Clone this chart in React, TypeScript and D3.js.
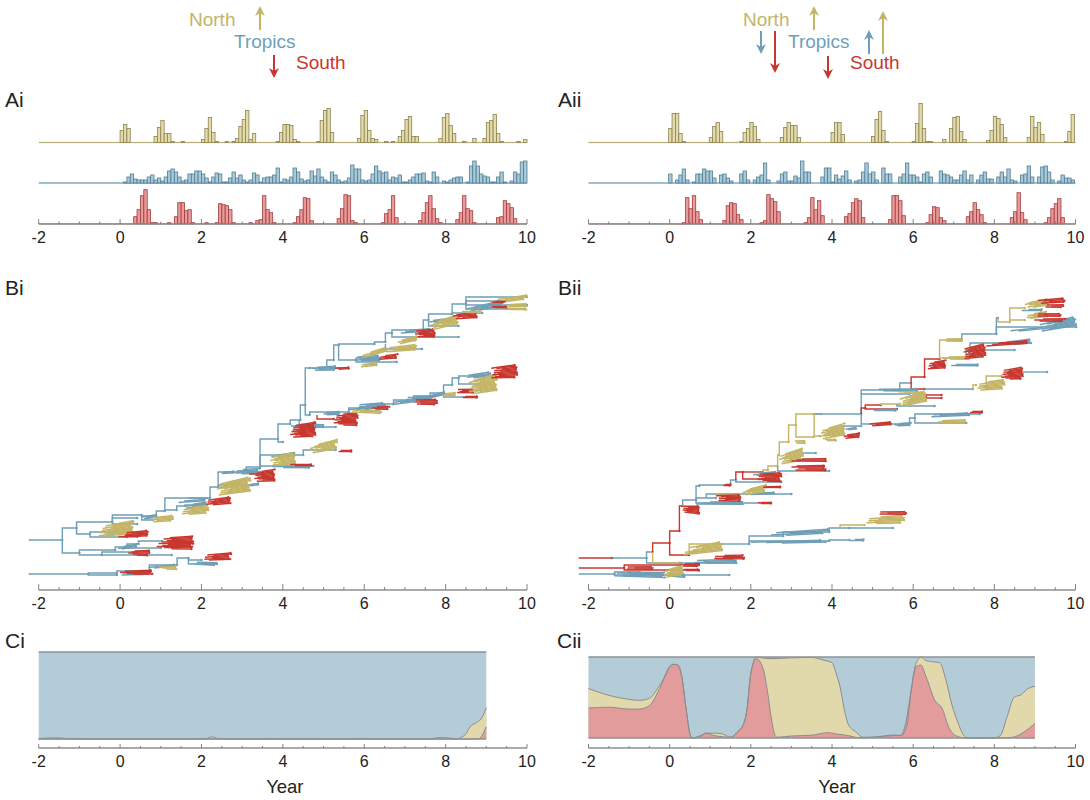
import * as d3 from 'd3';

const FONT = '"Liberation Sans", Arial, sans-serif';
const COLORS: Record<string, string> = { N: '#c4b566', T: '#6f9fb6', S: '#c8372f' };
const FILLS: Record<string, string> = { N: '#e3dbab', T: '#a9c9d8', S: '#e99a9a' };
const EDGES: Record<string, string> = { N: '#8c8350', T: '#4f7e95', S: '#a33b3c' };

// monthly case counts, one row per year, year 0 onward
const northI = [
  12, 18, 14, 0, 0, 0, 0, 0, 0, 0, 6, 15,
  22, 9, 9, 1, 0, 0, 1, 0, 0, 0, 0, 0,
  3, 14, 25, 10, 1, 0, 0, 1, 0, 1, 4, 16,
  23, 32, 3, 9, 0, 0, 0, 0, 0, 0, 1, 10,
  18, 18, 17, 3, 1, 0, 0, 0, 0, 0, 1, 22,
  32, 34, 10, 0, 0, 0, 0, 0, 0, 0, 4, 27,
  32, 12, 4, 3, 0, 0, 1, 0, 1, 0, 6, 12,
  23, 26, 6, 6, 0, 0, 0, 0, 0, 0, 4, 25,
  29, 17, 9, 0, 0, 1, 0, 0, 4, 0, 0, 4,
  20, 22, 28, 9, 1, 0, 0, 0, 0, 1, 0, 3,
];
const tropicsI = [
  0, 1, 6, 9, 4, 3, 3, 3, 6, 8, 3, 5,
  2, 6, 12, 14, 11, 6, 2, 3, 9, 9, 12, 12,
  9, 5, 1, 6, 10, 9, 1, 1, 5, 11, 5, 8,
  3, 1, 3, 10, 8, 1, 5, 6, 6, 8, 15, 1,
  4, 3, 6, 15, 11, 4, 2, 3, 12, 7, 14, 6,
  3, 1, 11, 8, 3, 1, 2, 5, 18, 14, 14, 3,
  2, 3, 9, 17, 12, 10, 11, 3, 6, 5, 8, 1,
  1, 3, 6, 9, 9, 10, 2, 1, 11, 6, 0, 2,
  1, 3, 5, 6, 6, 0, 1, 17, 22, 17, 9, 7,
  6, 1, 1, 6, 11, 1, 0, 2, 11, 9, 21, 22,
];
const southI = [
  0, 0, 0, 0, 7, 14, 28, 34, 14, 1, 1, 0,
  0, 0, 1, 0, 7, 21, 21, 13, 14, 1, 0, 0,
  0, 1, 0, 0, 1, 20, 19, 18, 14, 1, 0, 0,
  0, 0, 1, 0, 3, 4, 28, 14, 11, 1, 0, 0,
  0, 0, 0, 1, 7, 14, 26, 25, 3, 0, 0, 0,
  0, 0, 0, 0, 5, 15, 29, 28, 3, 1, 0, 0,
  0, 0, 0, 0, 0, 1, 10, 14, 28, 6, 0, 0,
  0, 0, 0, 0, 3, 11, 21, 28, 15, 5, 1, 0,
  0, 0, 0, 4, 11, 28, 15, 13, 1, 0, 0, 0,
  0, 0, 0, 6, 7, 23, 20, 16, 5, 0, 0, 0,
];
const northII = [
  14, 29, 29, 9, 1, 0, 0, 0, 0, 0, 0, 0,
  5, 16, 20, 11, 0, 0, 0, 0, 0, 1, 10, 14,
  20, 16, 3, 0, 0, 0, 0, 0, 0, 5, 15, 20,
  17, 17, 5, 0, 0, 0, 0, 0, 0, 0, 0, 0,
  10, 20, 20, 8, 0, 0, 0, 0, 0, 0, 0, 0,
  6, 23, 31, 12, 1, 0, 0, 0, 0, 0, 0, 0,
  1, 19, 39, 14, 1, 1, 0, 0, 0, 3, 0, 14,
  25, 26, 11, 3, 0, 0, 0, 0, 0, 0, 2, 12,
  26, 24, 18, 5, 0, 0, 0, 0, 0, 0, 5, 26,
  15, 20, 8, 0, 0, 0, 0, 0, 0, 1, 11, 28,
];
const tropicsII = [
  9, 0, 3, 8, 14, 3, 0, 1, 9, 9, 14, 12,
  12, 5, 0, 8, 9, 5, 2, 0, 0, 9, 12, 3,
  0, 3, 6, 8, 20, 3, 0, 0, 2, 9, 11, 2,
  2, 7, 5, 22, 11, 11, 0, 0, 0, 6, 15, 15,
  1, 8, 4, 7, 12, 3, 0, 2, 3, 11, 20, 9,
  11, 3, 0, 15, 9, 9, 0, 0, 6, 9, 20, 8,
  8, 6, 1, 9, 11, 6, 0, 0, 12, 9, 8, 6,
  3, 3, 8, 12, 3, 8, 0, 3, 8, 11, 4, 4,
  0, 6, 11, 6, 14, 3, 2, 0, 8, 9, 17, 6,
  0, 6, 16, 17, 11, 3, 0, 2, 8, 5, 5, 3,
];
const southII = [
  0, 0, 0, 0, 1, 26, 15, 28, 12, 4, 0, 0,
  0, 0, 0, 0, 3, 18, 21, 20, 9, 4, 0, 0,
  0, 0, 0, 1, 3, 29, 25, 22, 12, 0, 0, 0,
  0, 0, 0, 0, 1, 6, 26, 14, 23, 8, 0, 0,
  0, 0, 0, 0, 7, 10, 21, 25, 23, 6, 0, 0,
  0, 0, 0, 0, 0, 4, 28, 28, 23, 8, 0, 0,
  0, 0, 0, 0, 1, 9, 17, 16, 6, 3, 0, 0,
  0, 0, 0, 0, 7, 12, 21, 14, 9, 1, 0, 0,
  0, 0, 0, 0, 0, 6, 12, 31, 11, 4, 0, 0,
  0, 0, 0, 1, 6, 15, 20, 25, 6, 0, 0, 0,
];

// tree branches: start year, end year, rank, parent rank, region
type Branch = [number, number, number, number, string];
// tip clumps: start year, start rank, end year, end rank, spread, region
type Clump = [number, number, number, number, number, string];

const branchesI: Branch[] = [
  [-2.25, -1.42, 50, 50, 'T'], [-1.42, -1.07, 62, 50, 'T'], [-1.42, -1.0, 37, 50, 'T'],
  [-1.07, -0.19, 68, 62, 'T'], [-1.07, -0.74, 56, 62, 'T'], [-0.19, 0.42, 72, 68, 'T'], [-0.19, 0.42, 66, 68, 'T'],
  [-0.74, -0.08, 58, 56, 'T'], [-0.74, 0.17, 53, 56, 'T'],
  [-1.0, -0.12, 40, 37, 'T'], [-1.0, -0.45, 35, 37, 'T'], [-0.12, 0.17, 43, 40, 'T'], [0.17, 0.45, 46, 43, 'T'],
  [0.45, 1.03, 49, 46, 'T'], [0.17, 1.0, 42, 43, 'T'], [-0.45, 1.27, 35, 35, 'T'], [-0.45, 0.43, 38, 35, 'T'],
  [-2.25, -0.78, 16, 16, 'T'], [-0.78, -0.08, 17, 16, 'T'], [-0.78, -0.08, 15, 16, 'T'], [-0.08, 0.72, 19, 17, 'T'],
  [0.72, 1.4, 25, 19, 'T'], [1.4, 1.68, 32, 25, 'T'], [1.68, 2.0, 30, 32, 'T'], [1.68, 2.38, 26, 32, 'T'],
  [-0.19, 0.53, 75, 68, 'T'], [0.53, 0.89, 74, 75, 'T'], [0.53, 0.8, 70, 75, 'T'], [0.89, 1.1, 79, 74, 'T'],
  [1.1, 2.21, 92, 79, 'T'], [1.1, 1.39, 80, 79, 'T'], [1.39, 1.6, 84, 80, 'T'], [1.6, 2.13, 85, 84, 'T'],
  [2.21, 2.41, 103, 92, 'T'], [2.41, 3.44, 118, 103, 'T'], [2.41, 3.27, 105, 103, 'T'],
  [3.1, 3.44, 123, 118, 'T'], [3.44, 3.88, 151, 123, 'T'], [3.44, 4.5, 135, 123, 'T'], [4.5, 5.3, 140, 135, 'T'], [3.44, 4.75, 124, 123, 'T'],
  [3.88, 4.18, 166, 151, 'T'], [3.88, 4.0, 148, 151, 'T'],
  [4.18, 4.43, 170, 166, 'T'], [4.43, 4.55, 185, 170, 'T'], [4.55, 4.66, 222, 185, 'T'], [4.55, 4.66, 175, 185, 'T'],
  [4.4, 5.3, 163, 170, 'T'], [4.84, 5.25, 171, 175, 'S'],
  [4.66, 5.62, 178, 175, 'T'], [5.62, 6.15, 182, 178, 'T'], [6.15, 6.72, 186, 182, 'T'], [6.72, 7.21, 190, 186, 'T'],
  [7.21, 7.62, 194, 190, 'T'], [7.62, 7.95, 197, 194, 'T'], [7.95, 8.16, 205, 197, 'T'], [8.16, 8.32, 212, 205, 'T'],
  [7.95, 8.77, 193, 197, 'T'], [8.32, 9.18, 214, 212, 'T'], [8.32, 9.1, 206, 212, 'T'],
  [4.66, 5.6, 222, 222, 'T'], [5.08, 5.25, 230, 223, 'T'], [5.25, 5.37, 245, 230, 'T'], [5.37, 6.25, 246, 245, 'T'], [5.37, 5.8, 230, 245, 'T'],
  [5.8, 6.4, 232, 230, 'T'], [5.8, 6.8, 228, 230, 'T'], [6.52, 7.42, 241, 246, 'T'],
  [6.25, 6.52, 248, 246, 'T'], [6.52, 6.68, 257, 248, 'T'], [6.68, 8.32, 253, 257, 'T'], [6.68, 7.58, 260, 257, 'T'],
  [7.45, 7.58, 270, 260, 'T'], [7.58, 8.16, 276, 270, 'T'], [7.58, 8.32, 264, 270, 'T'], [8.16, 8.5, 286, 276, 'T'], [8.16, 8.9, 277, 276, 'T'],
  [8.5, 10.0, 293, 286, 'T'], [8.5, 10.0, 285, 286, 'T'], [8.5, 9.95, 281, 286, 'T'], [8.5, 9.4, 289, 286, 'T'],
];
const clumpsI: Clump[] = [
  [-0.1, 41, 0.45, 45, 3, 'T'], [0.0, 16, 0.7, 17, 3, 'T'], [1.4, 88, 2.1, 90, 2, 'T'], [0.53, 72, 0.9, 74, 3, 'T'], [3.0, 104, 3.4, 106, 2, 'T'], [2.5, 117, 2.8, 118, 2, 'T'],
  [-0.53, 58, 0.33, 63, 11, 'N'], [-0.1, 60, 0.3, 58, 5, 'N'], [0.08, 55, 0.7, 57, 5, 'S'], [-0.1, 54, 0.5, 54, 2, 'S'],
  [0.74, 70, 1.3, 72, 5, 'N'], [1.03, 49, 1.8, 50, 7, 'S'], [0.9, 44, 1.8, 44, 6, 'S'], [0.2, 37, 0.72, 37, 5, 'S'],
  [0.0, 17, 0.8, 18, 4, 'S'], [0.95, 22, 1.4, 22, 3, 'N'], [0.7, 22, 1.4, 25, 2, 'T'], [2.0, 32, 2.73, 34, 6, 'S'], [1.76, 27, 2.38, 26, 3, 'T'],
  [1.48, 78, 2.17, 81, 7, 'N'], [2.09, 87, 2.72, 90, 6, 'S'], [1.56, 83, 2.13, 86, 4, 'T'], [1.6, 92, 2.2, 92, 1, 'T'],
  [2.8, 118, 3.44, 119, 5, 'T'], [3.3, 113, 3.8, 115, 10, 'S'], [2.38, 100, 3.2, 106, 12, 'N'], [2.41, 102, 3.0, 108, 4, 'T'],
  [3.1, 116, 3.4, 116, 1, 'S'], [3.69, 128, 4.3, 132, 10, 'N'], [3.69, 133, 4.3, 136, 3, 'T'], [4.67, 140, 5.33, 146, 8, 'N'],
  [5.37, 139, 5.7, 139, 2, 'S'], [4.18, 125, 4.75, 125, 2, 'S'], [3.69, 123, 4.75, 123, 2, 'T'],
  [4.18, 158, 4.8, 161, 12, 'S'], [4.2, 165, 5.0, 164, 3, 'T'], [5.25, 170, 5.84, 171, 11, 'S'], [5.0, 176, 5.4, 177, 3, 'T'],
  [5.6, 179, 6.6, 185, 3, 'T'], [6.6, 186, 7.3, 190, 3, 'T'], [7.3, 190, 8.0, 197, 3, 'T'],
  [5.62, 179, 6.44, 178, 3, 'N'], [6.15, 182, 6.62, 182, 3, 'S'], [5.8, 184, 6.5, 186, 3, 'T'], [7.21, 188, 7.79, 188, 5, 'S'], [7.0, 192, 7.7, 192, 4, 'T'],
  [7.91, 195, 8.24, 196, 3, 'N'], [8.28, 199, 8.69, 199, 4, 'S'], [8.36, 193, 8.77, 193, 2, 'S'],
  [8.57, 202, 9.26, 208, 14, 'N'], [9.12, 217, 9.76, 219, 11, 'S'], [8.5, 213, 9.1, 216, 4, 'T'],
  [5.2, 221, 5.62, 222, 2, 'S'], [4.7, 221, 5.3, 222, 4, 'T'],
  [5.89, 233, 6.56, 241, 4, 'N'], [5.8, 231, 6.4, 232, 5, 'T'], [6.52, 240, 7.3, 243, 5, 'N'], [6.35, 232, 6.82, 234, 4, 'S'], [5.9, 224, 6.31, 226, 3, 'N'],
  [6.8, 247, 7.3, 252, 4, 'N'], [7.25, 256, 7.75, 257, 7, 'S'], [6.9, 258, 7.6, 260, 3, 'T'],
  [7.62, 263, 8.32, 271, 8, 'N'], [8.18, 273, 8.77, 275, 5, 'S'], [8.4, 278, 8.9, 278, 2, 'N'], [7.6, 268, 8.2, 271, 3, 'T'],
  [8.5, 279, 9.4, 287, 5, 'T'], [9.1, 288, 10.0, 293, 4, 'N'], [9.3, 284, 10.0, 285, 3, 'N'], [9.4, 281, 10.0, 281, 2, 'N'],
  [9.1, 288, 9.45, 288, 1.5, 'S'], [9.1, 283, 9.5, 283, 1.5, 'S'],
];

const branchesII: Branch[] = [
  [-2.24, -1.42, 32, 32, 'S'], [-1.42, -0.57, 32, 32, 'T'], [-0.57, -0.42, 38, 32, 'T'], [-0.57, 0.24, 27, 32, 'T'],
  [-0.42, 0, 47, 38, 'S'], [-0.42, 0.28, 27, 38, 'N'], [0, 0.24, 59, 47, 'S'], [0, 0.48, 35, 47, 'S'], [0.24, 0.32, 84, 59, 'S'],
  [0.32, 0.65, 90, 84, 'T'], [0.65, 0.73, 104, 90, 'T'], [0.73, 1.5, 105, 104, 'T'], [0.65, 2.5, 87, 90, 'T'], [0.65, 1.14, 92, 90, 'T'], [0.9, 3.0, 96, 92, 'T'],
  [1.5, 1.63, 110, 105, 'T'],
  [1.63, 1.8, 118, 110, 'S'], [1.8, 2.3, 118, 118, 'S'], [1.8, 2.6, 111, 118, 'S'], [1.63, 2.75, 108, 110, 'T'],
  [2.3, 2.42, 120, 118, 'N'], [2.42, 2.66, 124, 120, 'N'], [2.66, 2.7, 135, 124, 'N'], [2.66, 3.93, 119, 124, 'T'],
  [2.7, 2.93, 148, 135, 'N'], [2.93, 3.11, 165, 148, 'N'], [3.11, 3.55, 176, 165, 'N'], [3.11, 3.55, 153, 165, 'N'],
  [3.28, 3.6, 137, 135, 'T'], [3.55, 3.72, 176, 176, 'N'],
  [-1.12, 0.72, 25, 22, 'S'], [-2.24, -1.12, 22, 22, 'S'], [-1.12, 0.72, 20, 22, 'S'],
  [-2.24, -1.36, 16, 16, 'T'], [-1.36, -0.74, 18, 16, 'T'], [-1.36, 1.47, 15, 16, 'T'],
  [0.24, 1.64, 27, 27, 'T'], [0.48, 1.3, 46, 35, 'N'], [1.3, 1.96, 46, 46, 'T'],
  [1.96, 2.8, 54, 46, 'T'], [2.8, 3.93, 58, 54, 'T'], [3.93, 4.43, 62, 58, 'T'], [1.96, 3.93, 49, 46, 'T'],
  [3.93, 4.43, 50, 49, 'T'], [4.43, 5.5, 62, 62, 'T'], [4.2, 4.8, 65, 62, 'N'],
  [3.56, 4.72, 176, 176, 'T'], [3.56, 3.7, 154, 176, 'N'], [4.27, 4.72, 164, 154, 'T'],
  [4.72, 5.91, 196, 176, 'T'], [4.72, 5.91, 166, 176, 'T'], [5.91, 6.04, 172, 166, 'T'], [6.04, 7.64, 176, 172, 'T'], [6.04, 7.31, 167, 172, 'T'],
  [4.72, 4.82, 182, 176, 'S'], [4.82, 5.6, 181, 182, 'S'], [4.82, 5.2, 185, 182, 'S'], [5.2, 5.67, 186, 185, 'N'], [5.6, 6.53, 184, 186, 'T'],
  [6.32, 6.7, 195, 190, 'S'], [6.32, 6.7, 192, 190, 'S'],
  [4.72, 5.67, 200, 196, 'T'], [5.67, 5.95, 207, 200, 'T'], [5.95, 6.28, 213, 200, 'S'], [5.95, 6.28, 201, 200, 'S'], [6.28, 7.47, 201, 201, 'T'],
  [6.28, 6.65, 231, 213, 'S'], [7.47, 7.55, 205, 201, 'N'], [7.8, 8.17, 214, 205, 'N'], [8.7, 9.3, 218, 218, 'T'],
  [6.65, 7.2, 250, 231, 'N'], [6.65, 7.4, 232, 231, 'N'], [7.2, 8.05, 256, 250, 'T'], [7.4, 8.9, 247, 232, 'T'], [7.3, 8.5, 240, 232, 'T'],
  [8.05, 8.09, 272, 256, 'T'], [8.05, 10.02, 263, 256, 'T'], [8.09, 8.38, 268, 272, 'N'], [8.38, 8.75, 270, 268, 'N'], [8.38, 8.75, 282, 268, 'N'],
];
const clumpsII: Clump[] = [
  [0.3, 81, 0.73, 80, 7, 'S'], [1.3, 105, 1.5, 105, 2, 'S'], [2.17, 112, 2.75, 113, 8, 'S'], [2.0, 115, 2.6, 117, 3, 'T'],
  [2.7, 130, 3.28, 136, 10, 'N'], [3.07, 148, 3.35, 148, 3, 'N'], [3.0, 130, 3.85, 130, 3, 'S'], [3.0, 122, 3.85, 122, 5, 'S'],
  [0.48, 39, 1.3, 44, 8, 'N'], [0.3, 36, 0.7, 39, 3, 'N'], [1.02, 33, 1.84, 33, 4, 'S'], [0.57, 28, 1.64, 29, 4, 'T'],
  [-1.12, 22, -0.4, 22, 3, 'S'], [0.2, 25, 0.72, 25, 3, 'S'], [0.3, 20, 0.72, 20, 2, 'S'], [-1.36, 16, -0.1, 15, 5, 'T'], [-0.13, 16, 0.32, 20, 8, 'N'], [0.0, 15, 0.4, 14, 3, 'T'],
  [1.1, 94, 1.8, 94, 3, 'N'], [1.8, 97, 2.38, 102, 6, 'N'], [2.3, 103, 2.75, 103, 1.5, 'S'], [1.14, 92, 1.76, 92, 6, 'S'],
  [0.65, 87, 1.8, 87, 3, 'T'], [2.09, 87, 2.5, 87, 1.5, 'S'], [2.0, 96, 2.6, 97, 2, 'T'],
  [2.0, 47, 3.9, 49, 2.5, 'T'], [2.3, 55, 3.93, 59, 4, 'T'], [4.8, 69, 5.78, 71, 7, 'N'], [5.1, 77, 5.85, 77, 3, 'S'], [4.4, 50, 4.8, 50, 2, 'T'],
  [3.7, 155, 4.31, 161, 10, 'N'], [3.8, 150, 4.1, 150, 2, 'N'], [4.27, 153, 4.68, 155, 4, 'S'], [4.3, 160, 4.6, 162, 2, 'T'],
  [4.9, 165, 5.5, 167, 3, 'S'], [5.5, 165, 5.95, 166, 3, 'T'], [6.4, 174, 7.4, 176, 3, 'T'], [7.35, 178, 7.7, 178, 2, 'S'], [6.61, 168, 7.31, 169, 3, 'N'],
  [5.67, 187, 6.32, 194, 9, 'N'], [5.0, 180, 5.6, 180, 2, 'T'], [5.1, 200, 6.2, 200, 2.5, 'T'], [5.5, 198, 6.2, 197, 2, 'N'],
  [7.55, 203, 8.25, 206, 8, 'N'], [8.17, 215, 8.7, 217, 10, 'S'],
  [6.36, 224, 6.8, 226, 7, 'S'], [6.82, 225, 7.6, 225, 2, 'T'], [6.78, 250, 7.2, 250, 3, 'N'], [6.7, 232, 7.4, 232, 3, 'N'], [7.24, 236, 7.78, 240, 11, 'S'],
  [7.8, 245, 8.8, 248, 3, 'S'], [8.2, 246, 8.9, 249, 4, 'T'],
  [9.12, 262, 10.02, 269, 8, 'T'], [8.2, 258, 9.2, 262, 2, 'T'],
  [8.75, 284, 9.32, 288, 6, 'N'], [9.07, 288, 9.75, 290, 4, 'S'], [9.2, 284, 9.7, 284, 3, 'S'], [8.75, 273, 9.3, 276, 5, 'N'],
  [9.0, 275, 9.65, 275, 3, 'S'], [8.9, 270, 9.75, 270, 3, 'S'], [8.6, 280, 9.2, 280, 2, 'T'],
];

// stacked proportions as [year, share]
const ciSouth: [number, number][] = [[-2, 0], [8.8, 0], [9, 0.14]];
const ciNorth: [number, number][] = [
  [-2, 0.005], [-1.7, 0.012], [-1.5, 0.012], [-1.3, 0.005], [-0.9, 0.005], [-0.85, 0], [1.85, 0], [1.9, 0.005], [2.1, 0.003],
  [2.25, 0.025], [2.4, 0.007], [2.55, 0.005], [2.6, 0], [3.45, 0], [3.5, 0.005], [3.7, 0.002], [5.75, 0], [5.8, 0.005], [6.05, 0.005], [6.1, 0],
  [7.65, 0], [7.8, 0.015], [8, 0.015], [8.3, 0], [8.35, 0.01], [8.5, 0.06], [8.6, 0.14], [8.78, 0.195], [8.9, 0.25], [9, 0.36],
];
const ciiSouth: [number, number][] = [
  [-2, 0.37], [-1.5, 0.38], [-1, 0.357], [-0.75, 0.357], [-0.5, 0.4], [-0.25, 0.61], [0, 0.88], [0.1, 0.91], [0.2, 0.9], [0.3, 0.755], [0.4, 0.38],
  [0.5, 0.05], [0.55, 0], [0.8, 0.03], [0.9, 0.06], [1.1, 0.03], [1.5, 0.01], [1.7, 0.09], [1.8, 0.15], [1.9, 0.34], [2, 0.8], [2.14, 0.98],
  [2.3, 0.86], [2.4, 0.61], [2.5, 0.26], [2.6, 0.03], [2.65, 0.01], [3, 0.025], [3.5, 0.035], [3.9, 0.066], [4.1, 0.05], [4.4, 0.03], [4.7, 0],
  [5, 0.01], [5.5, 0.03], [5.7, 0.035], [5.81, 0.17], [5.94, 0.55], [6.07, 0.88], [6.19, 0.9], [6.32, 0.755], [6.54, 0.46], [6.71, 0.37],
  [6.88, 0.13], [7.09, 0.02], [7.3, 0], [8.2, 0], [8.46, 0.01], [8.72, 0.07], [9, 0.18],
];
const ciiNorth: [number, number][] = [
  [-2, 0.61], [-1.5, 0.527], [-1, 0.477], [-0.75, 0.465], [-0.5, 0.49], [-0.3, 0.61], [-0.1, 0.776], [0, 0.88], [0.1, 0.91], [0.2, 0.9], [0.3, 0.755],
  [0.4, 0.38], [0.5, 0.05], [0.55, 0], [0.8, 0.04], [0.9, 0.06], [1.1, 0.06], [1.3, 0.05], [1.5, 0.01], [1.7, 0.09], [1.8, 0.15], [1.9, 0.34], [2, 0.8],
  [2.14, 1], [2.2, 0.995], [2.5, 0.98], [3, 0.99], [3.5, 0.995], [3.8, 0.96], [4, 0.93], [4.1, 0.8], [4.2, 0.63], [4.3, 0.36], [4.4, 0.17], [4.6, 0.07],
  [4.75, 0.01], [5, 0.01], [5.5, 0.037], [5.7, 0.03], [5.85, 0.17], [5.94, 0.55], [6.07, 0.92], [6.2, 1], [6.3, 0.96], [6.5, 0.94], [6.65, 0.93],
  [6.8, 0.73], [6.95, 0.42], [7.1, 0.195], [7.25, 0.03], [7.35, 0], [8, 0.003], [8.15, 0.03], [8.3, 0.24], [8.5, 0.51], [8.65, 0.53], [8.8, 0.6], [9, 0.64],
];

const tickLabels = [-2, 0, 2, 4, 6, 8, 10];
const axisTicks = d3.range(-2, 10.01, 0.5);

// fixed pattern so a clump's strands end unevenly
const strandStart = [0.35, 0.1, 0.25, 0.05, 0.3, 0.15, 0, 0.2, 0.4, 0.12];
const strandEnd = [0, 0.08, 0.03, 0.12, 0.01, 0.06, 0.1, 0.02, 0.05, 0.09];

const xI = d3.scaleLinear().domain([-2, 10]).range([38.7, 527]);
const xII = d3.scaleLinear().domain([-2, 10]).range([588.5, 1075.5]);
const countH = d3.scaleLinear().domain([0, 40]).range([0, 40]);
const rankY = d3.scaleLinear().domain([0, 320]).range([590, 270]);

function Axis({ x, y, labelY, h }: { x: d3.ScaleLinear<number, number>; y: number; labelY: number; h: number }) {
  return (
    <g>
      <line x1={x(-2)} x2={x(10)} y1={y} y2={y} stroke="#8e8e8e" strokeWidth={1.3} />
      {axisTicks.map((t) => (
        <line key={t} x1={x(t)} x2={x(t)} y1={y} y2={y - (t % 2 === 0 ? h : h / 2)} stroke="#777" strokeWidth={0.9} />
      ))}
      {tickLabels.map((t) => (
        <text key={t} x={x(t)} y={labelY} textAnchor="middle" fontSize={16} fill="#222" fontFamily={FONT}>{t}</text>
      ))}
    </g>
  );
}

function Hist({ values, region, base, x, shift }: { values: number[]; region: string; base: number; x: d3.ScaleLinear<number, number>; shift: number }) {
  const w = (x(1) - x(0)) / 12;
  return (
    <g>
      <line x1={x(-2)} x2={x(10)} y1={base} y2={base} stroke={region === 'S' ? '#c9a3ac' : FILLS[region]} strokeWidth={1.6} />
      <line x1={x(-2)} x2={x(10)} y1={base} y2={base} stroke={region === 'S' ? '#c9a3ac' : EDGES[region]} strokeWidth={0.7} opacity={0.7} />
      {values.map((v, i) => (v > 0 ? (
        <rect
          key={i}
          x={x(i / 12) + shift}
          y={base - countH(v)}
          width={w}
          height={countH(v)}
          fill={FILLS[region]}
          stroke={EDGES[region]}
          strokeWidth={0.8}
        />
      ) : null))}
    </g>
  );
}

function Tree({ branches, clumps, x }: { branches: Branch[]; clumps: Clump[]; x: d3.ScaleLinear<number, number> }) {
  const ordered = clumps.filter((c) => c[5] === 'T').concat(clumps.filter((c) => c[5] !== 'T'));
  return (
    <g>
      {branches.map(([x0, x1, r, pr, region], i) => {
        const p = d3.path();
        p.moveTo(x(x0), rankY(pr));
        p.lineTo(x(x0), rankY(r));
        p.lineTo(x(x1), rankY(r));
        return (
          <g key={i}>
            <path d={p.toString()} fill="none" stroke={COLORS[region]} strokeWidth={1.4} />
            <circle cx={x(x1)} cy={rankY(r)} r={1.2} fill={COLORS[region]} />
          </g>
        );
      })}
      {ordered.map(([x0, r0, x1, r1, spread, region], i) => {
        const a = x(x0);
        const b = x(x1);
        const y0 = rankY(r0);
        const y1 = rankY(r1);
        const w = spread * 1.25;
        const n = Math.max(1, Math.round(w / 1.2));
        return (
          <g key={i} stroke={COLORS[region]} fill={COLORS[region]}>
            {d3.range(n).map((j) => {
              const off = ((j + 0.5) / n - 0.5) * w;
              const s = strandStart[(j + i) % 10];
              const e = 1 - strandEnd[(j * 3 + i) % 10];
              const ax = a + s * (b - a);
              const bx = a + e * (b - a);
              const ay = y0 + s * (y1 - y0) + off * (0.75 + 0.25 * s);
              const by = y0 + e * (y1 - y0) + off;
              return (
                <g key={j}>
                  <line x1={ax} y1={ay} x2={bx} y2={by} strokeWidth={1.5} />
                  <circle cx={bx} cy={by} r={1.1} stroke="none" />
                </g>
              );
            })}
          </g>
        );
      })}
    </g>
  );
}

function Stack({ south, north, x, top, bottom }: { south: [number, number][]; north: [number, number][]; x: d3.ScaleLinear<number, number>; top: number; bottom: number }) {
  const y = d3.scaleLinear().domain([0, 1]).range([bottom, top]);
  const area = d3.area<[number, number]>().x((d) => x(d[0])).y0(bottom).y1((d) => y(d[1])).curve(d3.curveMonotoneX);
  const edge = d3.line<[number, number]>().x((d) => x(d[0])).y((d) => y(d[1])).curve(d3.curveMonotoneX);
  return (
    <g>
      <rect x={x(-2)} y={top} width={x(9) - x(-2)} height={bottom - top} fill="#b4ccd8" />
      <path d={area(north) || ''} fill="#e1d9ac" />
      <path d={area(south) || ''} fill="#e29c9c" />
      <path d={edge(north) || ''} fill="none" stroke="#8c8c8c" strokeWidth={1} />
      <path d={edge(south) || ''} fill="none" stroke="#8c8c8c" strokeWidth={1} />
      <line x1={x(-2)} x2={x(9)} y1={top} y2={top} stroke="#8c9296" strokeWidth={1.3} />
      <line x1={x(-2)} x2={x(9)} y1={bottom} y2={bottom} stroke="#8c9296" strokeWidth={1.3} />
    </g>
  );
}

const arrowsI = [
  { x: 260, from: 30, to: 6, region: 'N' },
  { x: 274, from: 55, to: 78, region: 'S' },
];
const arrowsII = [
  { x: 814, from: 30, to: 6, region: 'N' },
  { x: 761, from: 31, to: 54, region: 'T' },
  { x: 775, from: 31, to: 73, region: 'S' },
  { x: 828, from: 56, to: 79, region: 'S' },
  { x: 869, from: 54, to: 30, region: 'T' },
  { x: 883, from: 54, to: 11, region: 'N' },
];

function Arrow({ x, from, to, region }: { x: number; from: number; to: number; region: string }) {
  const dir = to > from ? 1 : -1;
  return (
    <g>
      <line x1={x} x2={x} y1={from} y2={to - dir * 6} stroke={COLORS[region]} strokeWidth={2} />
      <path d={`M${x - 5},${to - dir * 10}L${x},${to}L${x + 5},${to - dir * 10}L${x},${to - dir * 7}Z`} fill={COLORS[region]} />
    </g>
  );
}

const words = [
  { text: 'North', x: 189, y: 26, region: 'N' },
  { text: 'Tropics', x: 234, y: 48, region: 'T' },
  { text: 'South', x: 296, y: 69, region: 'S' },
  { text: 'North', x: 743, y: 26, region: 'N' },
  { text: 'Tropics', x: 788, y: 48, region: 'T' },
  { text: 'South', x: 850, y: 69, region: 'S' },
];
const panelLabels = [
  { text: 'Ai', x: 5, y: 107 },
  { text: 'Aii', x: 558, y: 107 },
  { text: 'Bi', x: 5, y: 295 },
  { text: 'Bii', x: 558, y: 295 },
  { text: 'Ci', x: 5, y: 648 },
  { text: 'Cii', x: 557, y: 648 },
];

export default function App() {
  return (
    <svg width={1090} height={800} style={{ position: 'absolute', left: 0, top: 0, background: '#fff' }}>
      {words.map((d, i) => (
        <text key={i} x={d.x} y={d.y} fontSize={19} fill={COLORS[d.region]} fontFamily={FONT}>{d.text}</text>
      ))}
      {arrowsI.concat(arrowsII).map((a, i) => <Arrow key={i} {...a} />)}
      {panelLabels.map((d) => (
        <text key={d.text} x={d.x} y={d.y} fontSize={21} fill="#222" fontFamily={FONT}>{d.text}</text>
      ))}

      <Hist values={northI} region="N" base={142.5} x={xI} shift={0} />
      <Hist values={tropicsI} region="T" base={183} x={xI} shift={0} />
      <Hist values={southI} region="S" base={223.7} x={xI} shift={0} />
      <Axis x={xI} y={224} labelY={243} h={5} />
      <Hist values={northII} region="N" base={142.5} x={xII} shift={-1} />
      <Hist values={tropicsII} region="T" base={183} x={xII} shift={-1} />
      <Hist values={southII} region="S" base={223.7} x={xII} shift={-1} />
      <Axis x={xII} y={224} labelY={243} h={5} />

      <Tree branches={branchesI} clumps={clumpsI} x={xI} />
      <Axis x={xI} y={590} labelY={609} h={6} />
      <Tree branches={branchesII} clumps={clumpsII} x={xII} />
      <Axis x={xII} y={590} labelY={609} h={6} />

      <Stack south={ciSouth} north={ciNorth} x={xI} top={652} bottom={739} />
      <Axis x={xI} y={748} labelY={767} h={4} />
      <Stack south={ciiSouth} north={ciiNorth} x={xII} top={657} bottom={738} />
      <Axis x={xII} y={748} labelY={767} h={4} />

      <text x={xI(4) + 2} y={793} textAnchor="middle" fontSize={18.5} fill="#222" fontFamily={FONT}>Year</text>
      <text x={xII(4) + 5} y={793} textAnchor="middle" fontSize={18.5} fill="#222" fontFamily={FONT}>Year</text>
    </svg>
  );
}
